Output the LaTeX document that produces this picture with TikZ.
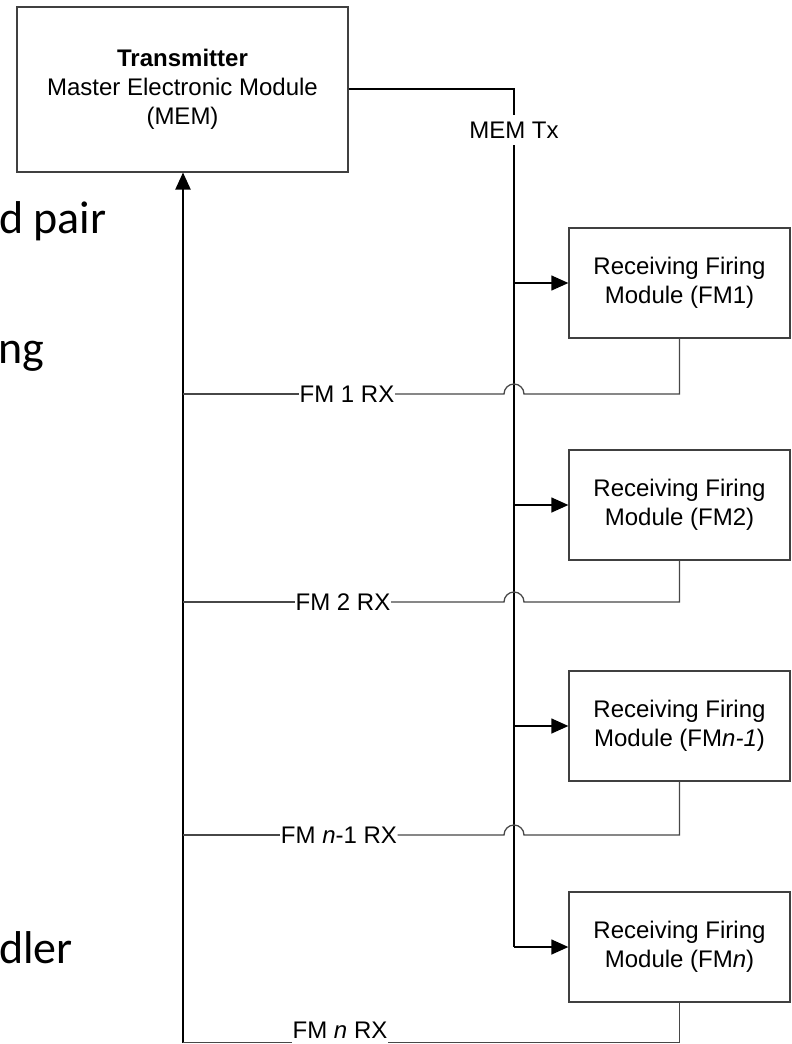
\documentclass[tikz,border=0pt]{standalone}
\usepackage{fontspec}
\setmainfont{Liberation Sans}
\newfontfamily\slidefont{Carlito}
\usetikzlibrary{arrows.meta}
\begin{document}
\begin{tikzpicture}[x=1pt,y=-1pt,
  mfont/.style={font=\fontsize{24}{29}\selectfont},
  box/.style={draw=black!75, line width=1.3pt, align=center, inner sep=0pt, mfont},
  fmbox/.style={box, minimum width=221pt, minimum height=110pt},
  bus/.style={draw=black, line width=1.8pt},
  branch/.style={draw=black, line width=1.3pt, -{Triangle[length=17pt,width=15pt]}},
  rx/.style={draw=black!72, line width=1.3pt},
  lbl/.style={mfont, fill=white, inner xsep=0.5pt, inner ysep=1pt},
  frag/.style={font=\slidefont\fontsize{46}{50}\selectfont, inner sep=0pt, anchor=base west}
]
\useasboundingbox (0,0) rectangle (792,1044);
\clip (0,0) rectangle (792,1044);

% background slide fragments
\node[frag] (f1) at (-1,233) {d pair};
\node[frag] (f2) at (-2,363) {ng};
\node[frag] (f3) at (-1,963) {dler};

% boxes
\node[box, minimum width=331pt, minimum height=165pt] (MEM) at (182.5,89.5)
  {\textbf{Transmitter}\\Master Electronic Module\\(MEM)};
\node[fmbox] (FM1) at (679.5,283) {Receiving Firing\\Module (FM1)};
\node[fmbox] (FM2) at (679.5,505) {Receiving Firing\\Module (FM2)};
\node[fmbox] (FM3) at (679.5,726) {Receiving Firing\\Module (FM\textit{n-1})};
\node[fmbox] (FM4) at (679.5,947) {Receiving Firing\\Module (FM\textit{n})};

% MEM Tx bus
\node[mfont, inner xsep=0pt, inner ysep=7pt] (tx) at (514,130) {MEM Tx};
\coordinate (b1) at (514,283);
\coordinate (b2) at (514,505);
\coordinate (b3) at (514,726);
\coordinate (b4) at (514,947);
\draw[bus] (MEM.east |- 0,89) -| (tx.north);
\draw[bus] (tx.south) -- (b4);
\draw[branch] (b1) -- (FM1.west);
\draw[branch] (b2) -- (FM2.west);
\draw[branch] (b3) -- (FM3.west);
\draw[branch] (b4) -- (FM4.west);

% labels on return lines
\node[lbl] (r1) at (347,394) {FM 1 RX};
\node[lbl] (r2) at (343,602) {FM 2 RX};
\node[lbl] (r3) at (339,835) {FM \textit{n}-1 RX};
\node[lbl, inner ysep=0pt] (r4) at (340,1030.5) {FM \textit{n} RX};

% return lines
\coordinate (bot) at (183,1042.5);
\draw[bus, line width=2pt, -{Triangle[length=17pt,width=15pt]}] (bot) -- (183,172.5);

\draw[rx] (FM1.south) |- (524,394) arc[start angle=0,end angle=180,radius=10pt] -- (r1.east);
\draw[rx] (r1.west) -- (183,394);
\draw[rx] (FM2.south) |- (524,602) arc[start angle=0,end angle=180,radius=10pt] -- (r2.east);
\draw[rx] (r2.west) -- (183,602);
\draw[rx] (FM3.south) |- (524,835) arc[start angle=0,end angle=180,radius=10pt] -- (r3.east);
\draw[rx] (r3.west) -- (183,835);
\draw[rx] (FM4.south) |- (r4.east |- bot);
\draw[rx] (r4.west |- bot) -- (bot);
\end{tikzpicture}
\end{document}
